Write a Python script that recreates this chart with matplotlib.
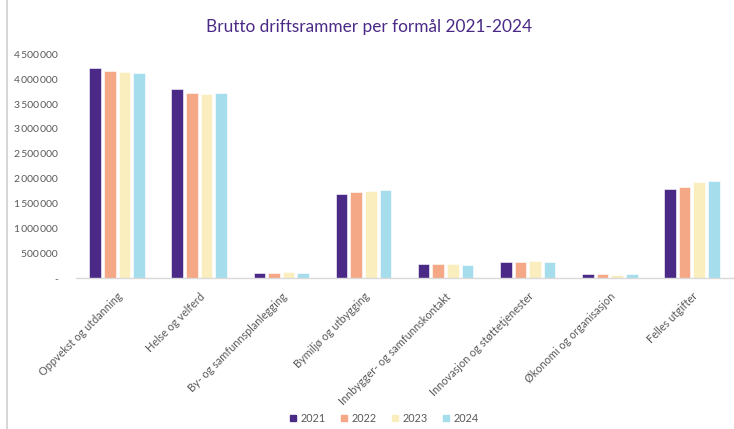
import numpy as np
import matplotlib
matplotlib.use('Agg')
import matplotlib.pyplot as plt
from matplotlib.lines import Line2D

categories = ['Oppvekst og utdanning', 'Helse og velferd', 'By- og samfunnsplanlegging',
              'Bymiljø og utbygging', 'Innbygger- og samfunnskontakt',
              'Innovasjon og støttetjenester', 'Økonomi og organisasjon', 'Felles utgifter']
years = ['2021', '2022', '2023', '2024']
v2021 = [4215000, 3795000, 105000, 1693000, 290000, 330000, 85000, 1793000]
v2022 = [4157000, 3715000, 105000, 1733000, 290000, 330000, 80000, 1833000]
v2023 = [4137000, 3695000, 125000, 1753000, 290000, 350000, 75000, 1928000]
v2024 = [4116000, 3715000, 105000, 1773000, 270000, 330000, 80000, 1948000]
yticks = [0, 500000, 1000000, 1500000, 2000000, 2500000, 3000000, 3500000, 4000000, 4500000]

colors = ['#4B2A87', '#F4A886', '#FBEEBE', '#A6DDED']
grey = '#595959'

plt.rcParams['font.family'] = ['Lato', 'DejaVu Sans']

fig = plt.figure(figsize=(7.34, 4.29), dpi=100)
ax = fig.add_axes([76 / 734, 1 - 278.3 / 429, 657 / 734, (278.3 - 54.3) / 429])

x = np.arange(len(categories))
w = 0.142
step = 0.178
for i, vals in enumerate([v2021, v2022, v2023, v2024]):
    ax.bar(x + (i - 1.5) * step, vals, width=w, color=colors[i],
           edgecolor='white', linewidth=0.4, label=years[i], zorder=2)

ax.set_xlim(-0.5, len(categories) - 0.5)
ax.set_ylim(0, 4500000)
ax.set_yticks(yticks)
ax.set_yticklabels(['-' if t == 0 else f'{t:,}'.replace(',', '\u2009') for t in yticks],
                   fontsize=7.5, color=grey)
ax.set_xticks(x)
ax.set_xticklabels(categories, rotation=45, ha='right', va='top', rotation_mode='anchor',
                   fontsize=7.8, color=grey)
ax.tick_params(axis='both', length=0)
ax.tick_params(axis='y', pad=13)
ax.tick_params(axis='x', pad=9)
for s in ['left', 'right', 'top']:
    ax.spines[s].set_visible(False)
ax.spines['bottom'].set_color('#D9D9D9')
ax.spines['bottom'].set_linewidth(1.0)

fig.text(369 / 734, 1 - 27 / 429, 'Brutto driftsrammer per formål 2021-2024',
         ha='center', va='center', fontsize=12.4, color='#4B2A87')

handles = [Line2D([0], [0], marker='s', linestyle='', markersize=5,
                  markerfacecolor=c, markeredgecolor=c) for c in colors]
leg = fig.legend(handles, years, loc='center', bbox_to_anchor=(383 / 734, 1 - 418 / 429),
                 ncol=4, frameon=False, fontsize=7.8, handletextpad=0.2, columnspacing=1.2,
                 handlelength=1.0)
for t in leg.get_texts():
    t.set_color(grey)

fig.add_artist(Line2D([6.5 / 734, 6.5 / 734], [0, 1], color='#D0D0D0', linewidth=1.2))

fig.savefig('out.png', dpi=100)
